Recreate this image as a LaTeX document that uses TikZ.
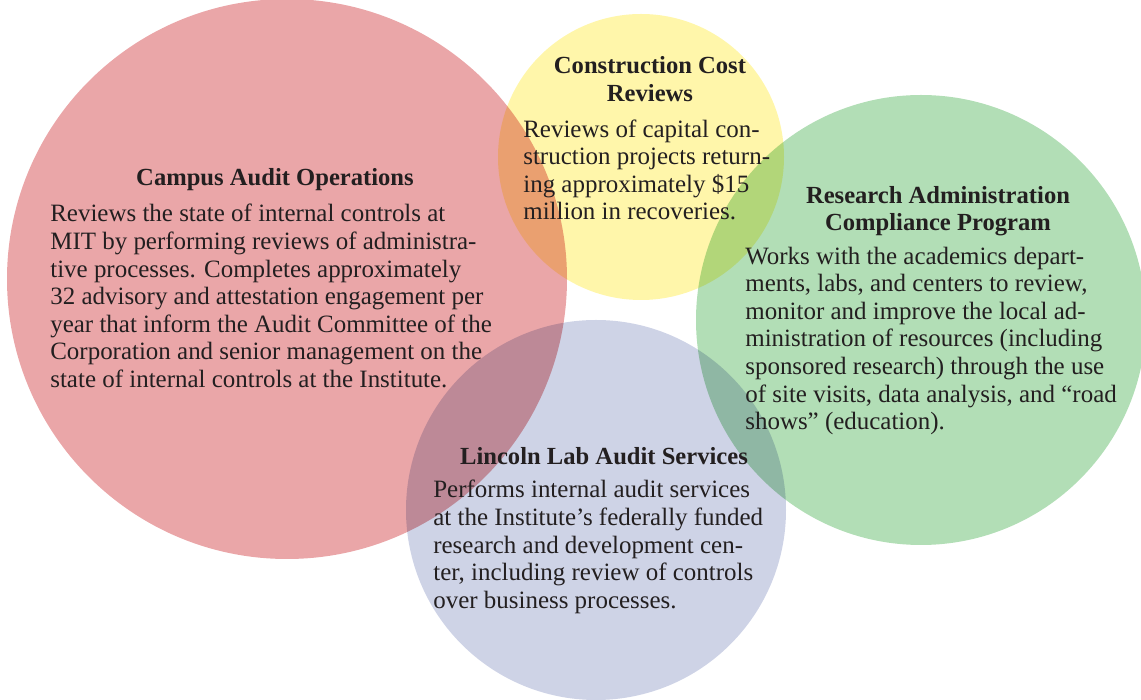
\documentclass[tikz,border=0pt]{standalone}
\usepackage{fontspec}
\setmainfont{Liberation Serif}
\usepackage{tikz}

\definecolor{campusred}{RGB}{234,166,168}
\definecolor{costyellow}{RGB}{255,246,170}
\definecolor{compgreen}{RGB}{178,222,182}
\definecolor{lincolnblue}{RGB}{206,211,230}
\definecolor{inkgray}{RGB}{35,31,32}

\begin{document}
\begin{tikzpicture}[scale=1.0,
  head/.style={font=\bfseries\fontsize{14}{15.7}\selectfont, align=center, inner sep=0pt, text=inkgray},
  body/.style={font=\fontsize{14.2}{15.7}\selectfont, align=left, inner sep=0pt, text=inkgray, anchor=west}]

  % Fix the page to the picture size
  \useasboundingbox (0,0) rectangle (22.82,14);

  % Draw the four circles, blended where they overlap
  \begin{scope}[blend group=multiply]
    \fill[campusred] (5.74,8.42) circle (5.6);
    \fill[costyellow] (12.82,10.86) circle (2.86);
    \fill[compgreen] (18.42,7.6) circle (4.5);
    \fill[lincolnblue] (11.92,3.8) circle (3.8);
  \end{scope}

  % Campus Audit Operations
  \node[head] (campustitle) at (5.5,10.4) {Campus Audit Operations};
  \node[body] (campusbody) at (1.0,8.08) {Reviews the state of internal controls at\\
    MIT by performing reviews of administra-\\
    tive processes. Completes approximately\\
    32 advisory and attestation engagement per\\
    year that inform the Audit Committee of the\\
    Corporation and senior management on the\\
    state of internal controls at the Institute.};

  % Construction Cost Reviews
  \node[head] (costtitle) at (13.0,12.42) {Construction Cost\\Reviews};
  \node[body] (costbody) at (10.46,10.6) {Reviews of capital con-\\
    struction projects return-\\
    ing approximately \$15\\
    million in recoveries.};

  % Research Administration Compliance Program
  \node[head] (comptitle) at (18.76,9.78) {Research Administration\\Compliance Program};
  \node[body] (compbody) at (14.9,7.18) {Works with the academics depart-\\
    ments, labs, and centers to review,\\
    monitor and improve the local ad-\\
    ministration of resources (including\\
    sponsored research) through the use\\
    of site visits, data analysis, and “road\\
    shows” (education).};

  % Lincoln Lab Audit Services
  \node[head] (lincolntitle) at (12.08,4.88) {Lincoln Lab Audit Services};
  \node[body] (lincolnbody) at (8.66,3.06) {Performs internal audit services\\
    at the Institute’s federally funded\\
    research and development cen-\\
    ter, including review of controls\\
    over business processes.};

\end{tikzpicture}
\end{document}
